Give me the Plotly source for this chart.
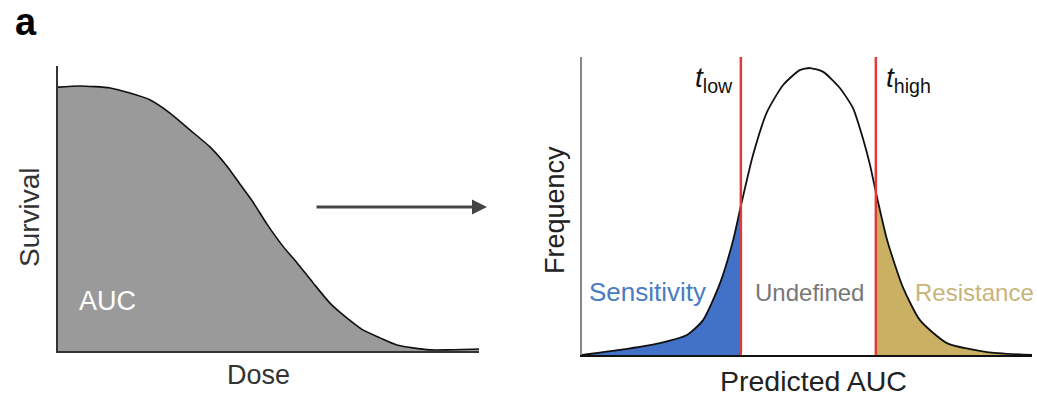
import plotly.graph_objects as go

W, H = 1037, 396

# ---- Data: dose-response survival curve (left panel) ----
dose = [0.0, 0.052, 0.124, 0.171, 0.219, 0.266, 0.314, 0.361, 0.401, 0.432,
        0.463, 0.496, 0.534, 0.568, 0.606, 0.646, 0.686, 0.724, 0.765, 0.805,
        0.843, 0.884, 0.924, 1.0]
survival = [0.926, 0.930, 0.923, 0.905, 0.881, 0.835, 0.775, 0.716, 0.649, 0.586,
            0.523, 0.446, 0.368, 0.309, 0.239, 0.168, 0.116, 0.074, 0.046, 0.021,
            0.011, 0.004, 0.004, 0.007]

# ---- Data: predicted AUC distribution (right panel) ----
pred_auc = [0.0, 0.084, 0.173, 0.233, 0.269, 0.307, 0.336, 0.353, 0.380, 0.411,
            0.447, 0.484, 0.507, 0.536, 0.573, 0.602, 0.624, 0.640, 0.653, 0.678,
            0.713, 0.751, 0.811, 0.900, 1.0]
frequency = [0.0, 0.017, 0.040, 0.067, 0.117, 0.242, 0.386, 0.500, 0.671, 0.815,
             0.906, 0.956, 0.963, 0.950, 0.896, 0.829, 0.728, 0.638, 0.547, 0.386,
             0.228, 0.117, 0.040, 0.010, 0.0]
t_low = 0.353
t_high = 0.653

region_labels = ["Sensitivity", "Undefined", "Resistance"]


def px(x):
    return x / W


def py(y):
    return 1 - y / H


fig = go.Figure()

# left panel
fig.add_trace(go.Scatter(x=dose, y=survival, mode="lines", fill="tozeroy",
                         fillcolor="#9a9a9a",
                         line=dict(color="#111111", width=1.6, shape="spline", smoothing=0.6),
                         xaxis="x", yaxis="y", hoverinfo="skip"))

# right panel fills
sens_x = [x for x in pred_auc if x <= t_low]
sens_y = [frequency[i] for i, x in enumerate(pred_auc) if x <= t_low]
res_x = [x for x in pred_auc if x >= t_high]
res_y = [frequency[i] for i, x in enumerate(pred_auc) if x >= t_high]

fig.add_trace(go.Scatter(x=sens_x, y=sens_y, mode="lines", fill="tozeroy",
                         fillcolor="#4272c8",
                         line=dict(color="rgba(0,0,0,0)", width=0, shape="spline", smoothing=0.6),
                         xaxis="x2", yaxis="y2", hoverinfo="skip"))
fig.add_trace(go.Scatter(x=res_x, y=res_y, mode="lines", fill="tozeroy",
                         fillcolor="#c9b062",
                         line=dict(color="rgba(0,0,0,0)", width=0, shape="spline", smoothing=0.6),
                         xaxis="x2", yaxis="y2", hoverinfo="skip"))
fig.add_trace(go.Scatter(x=pred_auc, y=frequency, mode="lines",
                         line=dict(color="#111111", width=1.8, shape="spline", smoothing=0.6),
                         xaxis="x2", yaxis="y2", hoverinfo="skip"))

# threshold lines
for t in (t_low, t_high):
    fig.add_shape(type="line", xref="x2", yref="y2 domain", x0=t, x1=t, y0=0, y1=1,
                  line=dict(color="#e0393a", width=2.5))

axis_common = dict(showgrid=False, zeroline=False, showticklabels=False, ticks="",
                   fixedrange=True)

fig.update_layout(
    width=W, height=H,
    margin=dict(l=0, r=0, t=0, b=0),
    paper_bgcolor="white", plot_bgcolor="white",
    showlegend=False,
    xaxis=dict(domain=[px(58), px(479)], range=[0, 1], showline=True,
               linecolor="#333333", linewidth=2, anchor="y", **axis_common),
    yaxis=dict(domain=[py(351), py(66)], range=[0, 1], showline=True,
               linecolor="#333333", linewidth=2, anchor="x", **axis_common),
    xaxis2=dict(domain=[px(582), px(1032)], range=[0, 1], showline=True,
                linecolor="#111111", linewidth=2, anchor="y2", **axis_common),
    yaxis2=dict(domain=[py(355), py(57)], range=[0, 1], showline=True,
                linecolor="#888888", linewidth=2, anchor="x2", **axis_common),
)

font_main = "Liberation Sans, Arial, sans-serif"

ann = []
ann.append(dict(text="<b>a</b>", x=px(26), y=1, yanchor="top", borderpad=0,
                font=dict(size=38, color="#000", family=font_main)))
ann.append(dict(text="Survival", x=px(29), y=py(217), textangle=-90,
                font=dict(size=28, color="#333", family=font_main)))
ann.append(dict(text="Dose", x=px(258), y=py(375), font=dict(size=27, color="#333", family=font_main)))
ann.append(dict(text="AUC", x=px(107), y=py(301), font=dict(size=27, color="#ffffff", family=font_main)))
ann.append(dict(text="Frequency", x=px(555), y=py(210), textangle=-90,
                font=dict(size=27, color="#222", family=font_main)))
ann.append(dict(text="Predicted AUC", x=px(813), y=py(381), font=dict(size=28.5, color="#222", family=font_main)))
ann.append(dict(text=region_labels[0], x=px(647), y=py(292), font=dict(size=26, color="#4a7cc2", family=font_main)))
ann.append(dict(text=region_labels[1], x=px(809), y=py(292), font=dict(size=24, color="#777777", family=font_main)))
ann.append(dict(text=region_labels[2], x=px(974), y=py(292), font=dict(size=24, color="#c8b47a", family=font_main)))
ann.append(dict(text="<i>t</i><sub>low</sub>", x=px(735), y=py(80), xanchor="right",
                font=dict(size=28, color="#111", family=font_main)))
ann.append(dict(text="<i>t</i><sub>high</sub>", x=px(884), y=py(80), xanchor="left",
                font=dict(size=28, color="#111", family=font_main)))

for a in ann:
    a.setdefault("xref", "paper")
    a.setdefault("yref", "paper")
    a.setdefault("showarrow", False)
    a.setdefault("xanchor", "center")
    a.setdefault("yanchor", "middle")

# arrow between panels
ann.append(dict(x=px(487), y=py(207), ax=315 - 487, ay=0, xref="paper", yref="paper",
                axref="pixel", ayref="pixel", text="", showarrow=True,
                arrowhead=2, arrowsize=1, arrowwidth=3, arrowcolor="#444444"))

fig.update_layout(annotations=ann)

fig.write_html("out.html")
